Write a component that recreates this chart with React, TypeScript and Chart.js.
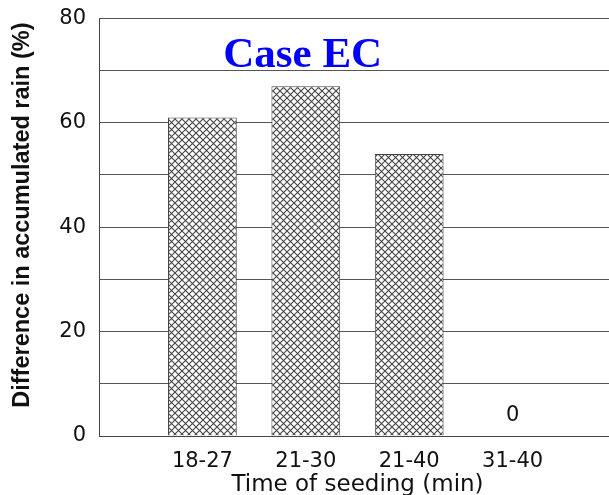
import React, { useEffect, useRef } from "react";
import { Chart, registerables } from "chart.js";

Chart.register(...registerables);

const categories = ["", "18-27", "21-30", "21-40", "31-40", ""];
const values: (number | null)[] = [null, 61, 67, 54, 0, null];
const yTickLabels = [0, 20, 40, 60, 80];
const chartTitle = "Case EC";
const xTitle = "Time of seeding (min)";
const yTitle = "Difference in accumulated rain (%)";

function makeHatch(): CanvasPattern | string {
  const s = 7;
  const c = document.createElement("canvas");
  c.width = s;
  c.height = s;
  const g = c.getContext("2d");
  if (!g) return "#ccc";
  g.fillStyle = "#ffffff";
  g.fillRect(0, 0, s, s);
  g.strokeStyle = "#444";
  g.lineWidth = 1.1;
  g.beginPath();
  g.moveTo(-1, -1);
  g.lineTo(s + 1, s + 1);
  g.moveTo(-1, s + 1);
  g.lineTo(s + 1, -1);
  g.stroke();
  return g.createPattern(c, "repeat") || "#ccc";
}

const annotPlugin = {
  id: "annot",
  afterDatasetsDraw(chart: any) {
    const ctx = chart.ctx;
    const xs = chart.scales.x;
    const ys = chart.scales.y;
    ctx.save();
    // zero-value labels
    const meta = chart.getDatasetMeta(0);
    ctx.font = "21px 'DejaVu Sans'";
    ctx.fillStyle = "#111";
    ctx.textAlign = "center";
    ctx.textBaseline = "middle";
    meta.data.forEach((el: any, i: number) => {
      const v = values[i];
      if (v === 0) {
        ctx.fillText(String(v), el.x, el.y - 20);
      }
    });
    // in-plot title
    ctx.font = "bold 43px 'Liberation Serif'";
    ctx.fillStyle = "#0000ff";
    ctx.textAlign = "center";
    ctx.textBaseline = "alphabetic";
    ctx.fillText(chartTitle, xs.getPixelForValue(1.97), ys.getPixelForValue(70.7));
    // y axis title
    ctx.font = "bold 23.5px 'Liberation Sans'";
    ctx.fillStyle = "#111";
    ctx.textAlign = "center";
    ctx.textBaseline = "middle";
    ctx.translate(ys.left + 23, ys.getPixelForValue(42.3));
    ctx.rotate(-Math.PI / 2);
    ctx.fillText(yTitle, 0, 0);
    ctx.restore();
  },
};

export default function App() {
  const ref = useRef<HTMLCanvasElement | null>(null);

  useEffect(() => {
    if (!ref.current) return;
    const hatch = makeHatch();
    const chart = new Chart(ref.current, {
      type: "bar",
      data: {
        labels: categories,
        datasets: [
          {
            data: values as any,
            backgroundColor: hatch as any,
            borderColor: "#444",
            borderWidth: 1,
            categoryPercentage: 1,
            barPercentage: 0.665,
          },
        ],
      },
      options: {
        responsive: false,
        animation: false,
        devicePixelRatio: 1,
        layout: { padding: { top: 14, right: 14, bottom: 0, left: 0 } },
        plugins: {
          legend: { display: false },
          tooltip: { enabled: false },
          title: { display: false },
        },
        scales: {
          x: {
            type: "category",
            offset: false,
            grid: { display: false },
            border: { display: true, color: "#444", width: 1 },
            ticks: {
              font: { family: "DejaVu Sans", size: 21 },
              color: "#111",
              padding: 5,
              maxRotation: 0,
              autoSkip: false,
            },
            title: {
              display: true,
              text: xTitle,
              font: { family: "DejaVu Sans", size: 23, lineHeight: 0.9 },
              color: "#111",
              padding: { top: 0, bottom: 0 },
            },
            afterFit: (s: any) => {
              s.height = 59;
            },
          },
          y: {
            min: 0,
            max: 80,
            ticks: {
              stepSize: 10,
              font: { family: "DejaVu Sans", size: 21, lineHeight: 0.5 },
              color: "#111",
              padding: 13,
              callback: (v: any) => (yTickLabels.includes(Number(v)) ? String(v) : ""),
            },
            grid: { color: "#555", lineWidth: 1, drawTicks: false },
            border: { display: true, color: "#444", width: 1 },
            title: { display: false },
            afterFit: (s: any) => {
              s.width = 99;
            },
          },
        },
      } as any,
      plugins: [annotPlugin],
    });
    return () => chart.destroy();
  }, []);

  return (
    <div
      style={{
        position: "fixed",
        left: 0,
        top: 0,
        width: 609,
        height: 495,
        overflow: "hidden",
        background: "#fff",
      }}
    >
      <canvas ref={ref} width={630} height={495} style={{ display: "block" }} />
    </div>
  );
}
